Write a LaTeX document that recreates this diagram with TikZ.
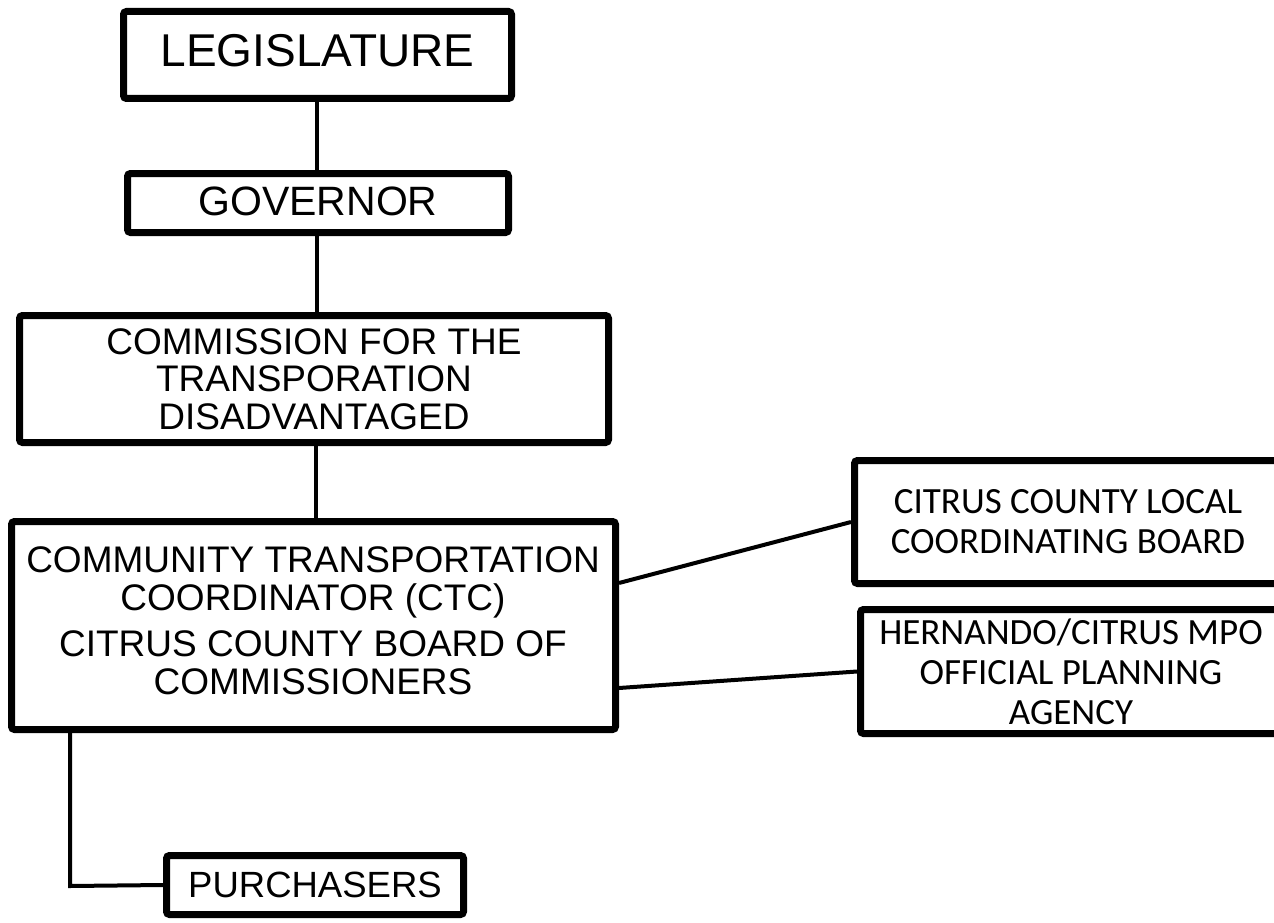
\documentclass[tikz,border=0pt]{standalone}
\usepackage{fontspec}
\setmainfont{Liberation Sans}
\newfontfamily\carlito{Carlito}
\tikzset{
  box/.style={draw, line width=7pt, rounded corners=3pt, inner sep=0pt, align=center, fill=white},
  link/.style={line width=4pt},
  arialA/.style={font=\fontsize{37}{37.5}\selectfont, align=center, inner sep=0pt},
  calib/.style={font=\carlito\fontsize{37}{40}\selectfont},
}
\begin{document}
\begin{tikzpicture}[x=1pt,y=-1pt]
\useasboundingbox (0,0) rectangle (1274,923);
\clip (0,0) rectangle (1274,923);
\fill[white] (0,0) rectangle (1274,923);

\node[box, minimum width=388pt, minimum height=87pt, text depth=9pt, font=\fontsize{46}{48}\selectfont] (leg) at (317.5,55) {LEGISLATURE};
\node[box, minimum width=381pt, minimum height=59pt, text depth=3pt, font=\fontsize{41}{43}\selectfont] (gov) at (318,203) {GOVERNOR};
\node[box, minimum width=589pt, minimum height=127pt, arialA] (com) at (314,379) {COMMISSION FOR THE\\TRANSPORATION\\DISADVANTAGED};
\node[box, minimum width=604pt, minimum height=208pt] (ctc) at (313.5,625.5) {};
\node[arialA] (ctctxt) at (313,621) {COMMUNITY TRANSPORTATION\\COORDINATOR (CTC)\\[9pt]CITRUS COUNTY BOARD OF\\COMMISSIONERS};
\node[box, minimum width=427pt, minimum height=123pt, calib] (loc) at (1068,522) {CITRUS COUNTY LOCAL\\COORDINATING BOARD};
\node[box, minimum width=421pt, minimum height=124pt, calib] (her) at (1071,671.5) {HERNANDO/CITRUS MPO\\OFFICIAL PLANNING\\AGENCY};
\node[box, minimum width=297pt, minimum height=59pt, font=\fontsize{36.5}{38}\selectfont] (pur) at (315,885) {PURCHASERS};

\coordinate (pk) at (70,886);

\draw[link] (leg.south -| 317,0) -- (gov.north -| 317,0);
\draw[link] (gov.south -| 317,0) -- (com.north -| 317,0);
\draw[link] (com.south -| 316,0) -- (ctc.north -| 316,0);
\draw[link] ([yshift=42.5pt]ctc.east) -- (loc.west);
\draw[link] ([yshift=-62.5pt]ctc.east) -- (her.west);
\draw[link] (pk |- ctc.south) -- (pk) -- (pur.west);
\end{tikzpicture}
\end{document}
